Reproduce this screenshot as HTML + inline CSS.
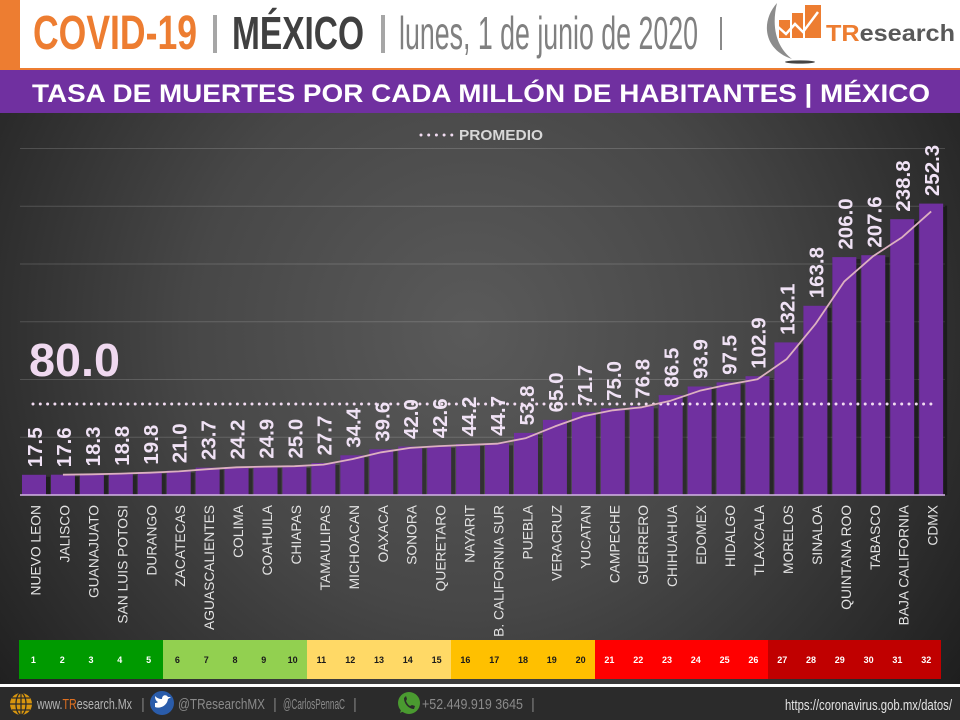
<!DOCTYPE html>
<html><head><meta charset="utf-8">
<style>
html,body{margin:0;padding:0;background:#2a2a2a;}
svg{display:block;}
.t{font-family:"Liberation Sans",Arial,sans-serif;}
.dl{font-family:"Liberation Sans",Arial,sans-serif;font-size:20.5px;font-weight:bold;fill:#f0e2f5;}
.cl{font-family:"Liberation Sans",Arial,sans-serif;font-size:13.8px;fill:#e2e2e2;text-anchor:end;}
.n{font-family:"Liberation Sans",Arial,sans-serif;font-size:9px;font-weight:bold;text-anchor:middle;}
</style></head>
<body>
<svg width="960" height="720" viewBox="0 0 960 720" xmlns="http://www.w3.org/2000/svg">
<defs>
<radialGradient id="bg" gradientUnits="userSpaceOnUse" cx="470" cy="330" r="620">
<stop offset="0" stop-color="#5a5a5a"/>
<stop offset="0.45" stop-color="#474747"/>
<stop offset="0.8" stop-color="#2c2c2c"/>
<stop offset="1" stop-color="#1c1c1c"/>
</radialGradient>
</defs>
<rect width="960" height="720" fill="#2a2a2a"/>
<rect y="113" width="960" height="571" fill="url(#bg)"/>

<!-- header -->
<rect x="0" y="0" width="960" height="68" fill="#ffffff"/>
<rect x="0" y="0" width="20" height="68" fill="#ed7d31"/>
<rect x="0" y="68" width="960" height="2" fill="#ed7d31"/>
<rect x="0" y="70" width="960" height="43" fill="#7030a0"/>
<text class="t" x="33" y="49" font-size="48" font-weight="bold" fill="#ed7d31" textLength="164" lengthAdjust="spacingAndGlyphs">COVID-19</text>
<rect x="213" y="15" width="4" height="38" fill="#a6a6a6"/>
<text class="t" x="232" y="49" font-size="46" font-weight="bold" fill="#404040" textLength="132" lengthAdjust="spacingAndGlyphs">MÉXICO</text>
<rect x="381" y="15" width="4" height="38" fill="#a6a6a6"/>
<text class="t" x="399" y="49" font-size="46" fill="#808080" textLength="299" lengthAdjust="spacingAndGlyphs">lunes, 1 de junio de 2020</text>
<rect x="720" y="17" width="2" height="33" fill="#8a8a8a"/>

<!-- logo -->
<path d="M777,3 C760,22 764,50 792,59 C780,50 770,32 777,3 Z" fill="#8c8c8c"/>
<ellipse cx="800" cy="62" rx="15" ry="1.6" fill="#444"/>
<rect x="779" y="20" width="11" height="18" fill="#ed7d31"/>
<rect x="792" y="13" width="11" height="25" fill="#ed7d31"/>
<rect x="805" y="5" width="16" height="33" fill="#ed7d31"/>
<polyline points="777,26 786,34 795,24 803,32 818,12" fill="none" stroke="#ffffff" stroke-width="2.5"/>
<text class="t" x="826" y="41" font-size="23" font-weight="bold" textLength="129" lengthAdjust="spacingAndGlyphs"><tspan fill="#ed7d31">TR</tspan><tspan fill="#595959">esearch</tspan></text>

<text class="t" x="32" y="102" font-size="25" font-weight="bold" fill="#ffffff" textLength="898" lengthAdjust="spacingAndGlyphs">TASA DE MUERTES POR CADA MILLÓN DE HABITANTES | MÉXICO</text>

<!-- legend -->
<line x1="421" y1="135" x2="452" y2="135" stroke="#f2dcf2" stroke-width="3" stroke-linecap="round" stroke-dasharray="0 7.7"/>
<text class="t" x="459" y="140" font-size="15" font-weight="bold" fill="#d8d8d8" textLength="84" lengthAdjust="spacingAndGlyphs">PROMEDIO</text>

<!-- gridlines -->
<g stroke="#ffffff" stroke-opacity="0.16" stroke-width="1">
<line x1="20" y1="148.5" x2="945" y2="148.5"/>
<line x1="20" y1="206.3" x2="945" y2="206.3"/>
<line x1="20" y1="264" x2="945" y2="264"/>
<line x1="20" y1="321.8" x2="945" y2="321.8"/>
<line x1="20" y1="379.5" x2="945" y2="379.5"/>
<line x1="20" y1="437.3" x2="945" y2="437.3"/>
</g>

<!-- bar shadows -->
<g fill="#000" fill-opacity="0.38">
<rect x="22" y="476.8" width="28" height="18.2"/>
<rect x="50.94" y="476.7" width="28" height="18.3"/>
<rect x="79.88" y="475.9" width="28" height="19.1"/>
<rect x="108.82" y="475.3" width="28" height="19.7"/>
<rect x="137.76" y="474.1" width="28" height="20.9"/>
<rect x="166.7" y="472.7" width="28" height="22.3"/>
<rect x="195.64" y="469.6" width="28" height="25.4"/>
<rect x="224.58" y="469" width="28" height="26"/>
<rect x="253.52" y="468.2" width="28" height="26.8"/>
<rect x="282.46" y="468.1" width="28" height="26.9"/>
<rect x="311.4" y="465" width="28" height="30"/>
<rect x="340.34" y="457.3" width="28" height="37.7"/>
<rect x="369.28" y="451.3" width="28" height="43.7"/>
<rect x="398.22" y="448.5" width="28" height="46.5"/>
<rect x="427.16" y="447.8" width="28" height="47.2"/>
<rect x="456.1" y="446" width="28" height="49"/>
<rect x="485.04" y="445.4" width="28" height="49.6"/>
<rect x="513.98" y="434.9" width="28" height="60.1"/>
<rect x="542.92" y="421.9" width="28" height="73.1"/>
<rect x="571.86" y="414.2" width="28" height="80.8"/>
<rect x="600.8" y="410.4" width="28" height="84.6"/>
<rect x="629.74" y="408.3" width="28" height="86.7"/>
<rect x="658.68" y="397.1" width="28" height="97.9"/>
<rect x="687.62" y="388.5" width="28" height="106.5"/>
<rect x="716.56" y="384.4" width="28" height="110.6"/>
<rect x="745.5" y="378.2" width="28" height="116.8"/>
<rect x="774.44" y="344.4" width="28" height="150.6"/>
<rect x="803.38" y="307.8" width="28" height="187.2"/>
<rect x="832.32" y="259.1" width="28" height="235.9"/>
<rect x="861.26" y="257.2" width="28" height="237.8"/>
<rect x="890.2" y="221.2" width="28" height="273.8"/>
<rect x="919.14" y="205.6" width="28" height="289.4"/>
</g>

<!-- bars -->
<g fill="#7030a0">
<rect x="22" y="474.8" width="24" height="20.2"/>
<rect x="50.94" y="474.7" width="24" height="20.3"/>
<rect x="79.88" y="473.9" width="24" height="21.1"/>
<rect x="108.82" y="473.3" width="24" height="21.7"/>
<rect x="137.76" y="472.1" width="24" height="22.9"/>
<rect x="166.7" y="470.7" width="24" height="24.3"/>
<rect x="195.64" y="467.6" width="24" height="27.4"/>
<rect x="224.58" y="467" width="24" height="28"/>
<rect x="253.52" y="466.2" width="24" height="28.8"/>
<rect x="282.46" y="466.1" width="24" height="28.9"/>
<rect x="311.4" y="463" width="24" height="32"/>
<rect x="340.34" y="455.3" width="24" height="39.7"/>
<rect x="369.28" y="449.3" width="24" height="45.7"/>
<rect x="398.22" y="446.5" width="24" height="48.5"/>
<rect x="427.16" y="445.8" width="24" height="49.2"/>
<rect x="456.1" y="444" width="24" height="51"/>
<rect x="485.04" y="443.4" width="24" height="51.6"/>
<rect x="513.98" y="432.9" width="24" height="62.1"/>
<rect x="542.92" y="419.9" width="24" height="75.1"/>
<rect x="571.86" y="412.2" width="24" height="82.8"/>
<rect x="600.8" y="408.4" width="24" height="86.6"/>
<rect x="629.74" y="406.3" width="24" height="88.7"/>
<rect x="658.68" y="395.1" width="24" height="99.9"/>
<rect x="687.62" y="386.5" width="24" height="108.5"/>
<rect x="716.56" y="382.4" width="24" height="112.6"/>
<rect x="745.5" y="376.2" width="24" height="118.8"/>
<rect x="774.44" y="342.4" width="24" height="152.6"/>
<rect x="803.38" y="305.8" width="24" height="189.2"/>
<rect x="832.32" y="257.1" width="24" height="237.9"/>
<rect x="861.26" y="255.2" width="24" height="239.8"/>
<rect x="890.2" y="219.2" width="24" height="275.8"/>
<rect x="919.14" y="203.6" width="24" height="291.4"/>
</g>

<!-- axis -->
<line x1="20" y1="495" x2="945" y2="495" stroke="#d4b4e6" stroke-width="1.6"/>

<!-- average dotted line -->
<line x1="33" y1="404" x2="932" y2="404" stroke="#f2dcf2" stroke-width="3" stroke-linecap="round" stroke-dasharray="0 7.3"/>

<!-- moving average -->
<polyline fill="none" stroke="#dcb0c0" stroke-width="1.8" stroke-linejoin="round" points="62.94,474.7 91.88,474.3 120.82,473.6 149.76,472.7 178.7,471.4 207.64,469.2 236.58,467.3 265.52,466.6 294.46,466.2 323.4,464.6 352.34,459.1 381.28,452.3 410.22,447.9 439.16,446.1 468.1,444.9 497.04,443.7 525.98,438.1 554.92,426.4 583.86,416.1 612.8,410.3 641.74,407.3 670.68,400.7 699.62,390.8 728.56,384.5 757.5,379.3 786.44,359.3 815.38,324.1 844.32,281.4 873.26,256.1 902.2,237.2 931.14,211.4"/>

<!-- 80.0 -->
<text class="t" x="29" y="376" font-size="46" font-weight="bold" fill="#f0d9f0" textLength="91" lengthAdjust="spacingAndGlyphs">80.0</text>

<!-- data labels -->
<g class="dl">
<text transform="translate(42,467.3) rotate(-90)">17.5</text>
<text transform="translate(70.94,467.2) rotate(-90)">17.6</text>
<text transform="translate(99.88,466.4) rotate(-90)">18.3</text>
<text transform="translate(128.82,465.8) rotate(-90)">18.8</text>
<text transform="translate(157.76,464.6) rotate(-90)">19.8</text>
<text transform="translate(186.7,463.2) rotate(-90)">21.0</text>
<text transform="translate(215.64,460.1) rotate(-90)">23.7</text>
<text transform="translate(244.58,459.5) rotate(-90)">24.2</text>
<text transform="translate(273.52,458.7) rotate(-90)">24.9</text>
<text transform="translate(302.46,458.6) rotate(-90)">25.0</text>
<text transform="translate(331.4,455.5) rotate(-90)">27.7</text>
<text transform="translate(360.34,447.8) rotate(-90)">34.4</text>
<text transform="translate(389.28,441.8) rotate(-90)">39.6</text>
<text transform="translate(418.22,439) rotate(-90)">42.0</text>
<text transform="translate(447.16,438.3) rotate(-90)">42.6</text>
<text transform="translate(476.1,436.5) rotate(-90)">44.2</text>
<text transform="translate(505.04,435.9) rotate(-90)">44.7</text>
<text transform="translate(533.98,425.4) rotate(-90)">53.8</text>
<text transform="translate(562.92,412.4) rotate(-90)">65.0</text>
<text transform="translate(591.86,404.7) rotate(-90)">71.7</text>
<text transform="translate(620.8,400.9) rotate(-90)">75.0</text>
<text transform="translate(649.74,398.8) rotate(-90)">76.8</text>
<text transform="translate(678.68,387.6) rotate(-90)">86.5</text>
<text transform="translate(707.62,379) rotate(-90)">93.9</text>
<text transform="translate(736.56,374.9) rotate(-90)">97.5</text>
<text transform="translate(765.5,368.7) rotate(-90)">102.9</text>
<text transform="translate(794.44,334.9) rotate(-90)">132.1</text>
<text transform="translate(823.38,298.3) rotate(-90)">163.8</text>
<text transform="translate(852.32,249.6) rotate(-90)">206.0</text>
<text transform="translate(881.26,247.7) rotate(-90)">207.6</text>
<text transform="translate(910.2,211.7) rotate(-90)">238.8</text>
<text transform="translate(939.14,196.1) rotate(-90)">252.3</text>
</g>

<!-- category labels -->
<g class="cl">
<text transform="translate(40.5,505) rotate(-90)">NUEVO LEON</text>
<text transform="translate(69.44,505) rotate(-90)">JALISCO</text>
<text transform="translate(98.38,505) rotate(-90)">GUANAJUATO</text>
<text transform="translate(127.32,505) rotate(-90)">SAN LUIS POTOSI</text>
<text transform="translate(156.26,505) rotate(-90)">DURANGO</text>
<text transform="translate(185.2,505) rotate(-90)">ZACATECAS</text>
<text transform="translate(214.14,505) rotate(-90)">AGUASCALIENTES</text>
<text transform="translate(243.08,505) rotate(-90)">COLIMA</text>
<text transform="translate(272.02,505) rotate(-90)">COAHUILA</text>
<text transform="translate(300.96,505) rotate(-90)">CHIAPAS</text>
<text transform="translate(329.9,505) rotate(-90)">TAMAULIPAS</text>
<text transform="translate(358.84,505) rotate(-90)">MICHOACAN</text>
<text transform="translate(387.78,505) rotate(-90)">OAXACA</text>
<text transform="translate(416.72,505) rotate(-90)">SONORA</text>
<text transform="translate(445.66,505) rotate(-90)">QUERETARO</text>
<text transform="translate(474.6,505) rotate(-90)">NAYARIT</text>
<text transform="translate(503.54,505) rotate(-90)">B. CALIFORNIA SUR</text>
<text transform="translate(532.48,505) rotate(-90)">PUEBLA</text>
<text transform="translate(561.42,505) rotate(-90)">VERACRUZ</text>
<text transform="translate(590.36,505) rotate(-90)">YUCATAN</text>
<text transform="translate(619.3,505) rotate(-90)">CAMPECHE</text>
<text transform="translate(648.24,505) rotate(-90)">GUERRERO</text>
<text transform="translate(677.18,505) rotate(-90)">CHIHUAHUA</text>
<text transform="translate(706.12,505) rotate(-90)">EDOMEX</text>
<text transform="translate(735.06,505) rotate(-90)">HIDALGO</text>
<text transform="translate(764,505) rotate(-90)">TLAXCALA</text>
<text transform="translate(792.94,505) rotate(-90)">MORELOS</text>
<text transform="translate(821.88,505) rotate(-90)">SINALOA</text>
<text transform="translate(850.82,505) rotate(-90)">QUINTANA ROO</text>
<text transform="translate(879.76,505) rotate(-90)">TABASCO</text>
<text transform="translate(908.7,505) rotate(-90)">BAJA CALIFORNIA</text>
<text transform="translate(937.64,505) rotate(-90)">CDMX</text>
</g>

<!-- color scale -->
<rect x="19" y="640" width="144" height="39" fill="#009a00"/>
<rect x="163" y="640" width="144" height="39" fill="#92d050"/>
<rect x="307" y="640" width="144" height="39" fill="#ffd966"/>
<rect x="451" y="640" width="144" height="39" fill="#ffc000"/>
<rect x="595" y="640" width="173" height="39" fill="#ff0000"/>
<rect x="768" y="640" width="173" height="39" fill="#c00000"/>
<g class="n" fill="#ffffff">
<text x="33.4" y="663">1</text><text x="62.2" y="663">2</text><text x="91" y="663">3</text><text x="119.8" y="663">4</text><text x="148.6" y="663">5</text>
</g>
<g class="n" fill="#1a1a1a">
<text x="177.4" y="663">6</text><text x="206.2" y="663">7</text><text x="235" y="663">8</text><text x="263.8" y="663">9</text><text x="292.6" y="663">10</text>
<text x="321.4" y="663">11</text><text x="350.2" y="663">12</text><text x="379" y="663">13</text><text x="407.8" y="663">14</text><text x="436.6" y="663">15</text>
<text x="465.4" y="663">16</text><text x="494.2" y="663">17</text><text x="523" y="663">18</text><text x="551.8" y="663">19</text><text x="580.6" y="663">20</text>
</g>
<g class="n" fill="#ffffff">
<text x="609.4" y="663">21</text><text x="638.2" y="663">22</text><text x="667" y="663">23</text><text x="695.8" y="663">24</text><text x="724.6" y="663">25</text><text x="753.4" y="663">26</text>
<text x="782.2" y="663">27</text><text x="811" y="663">28</text><text x="839.8" y="663">29</text><text x="868.6" y="663">30</text><text x="897.4" y="663">31</text><text x="926.2" y="663">32</text>
</g>

<!-- footer -->
<rect x="0" y="684" width="960" height="3" fill="#ffffff"/>
<rect x="0" y="687" width="960" height="33" fill="#2b2b2b"/>
<circle cx="21" cy="704" r="11" fill="#d8960f"/>
<g fill="none" stroke="#2b2b2b" stroke-width="1.3">
<ellipse cx="21" cy="704" rx="5" ry="11"/>
<line x1="10" y1="704" x2="32" y2="704"/>
<line x1="12" y1="698" x2="30" y2="698"/>
<line x1="12" y1="710" x2="30" y2="710"/>
<line x1="21" y1="693" x2="21" y2="715"/>
</g>
<text class="t" x="37" y="709" font-size="15" fill="#b4b4b4" textLength="95" lengthAdjust="spacingAndGlyphs">www.<tspan fill="#e07020">TR</tspan>esearch.Mx</text>
<text class="t" x="141" y="709" font-size="15" fill="#7a7a7a">|</text>
<circle cx="162" cy="703" r="12" fill="#2a5caa"/>
<path d="M155,707 C160,709 167,706 168,699 L171,697 L168,697 C166,694 162,695 162,699 C159,699 157,698 155,696 C155,699 156,701 158,702 C157,703 156,703 155,703 Z" fill="#ffffff"/>
<text class="t" x="178" y="709" font-size="15" fill="#8a8a8a" textLength="87" lengthAdjust="spacingAndGlyphs">@TResearchMX</text>
<text class="t" x="273" y="709" font-size="15" fill="#7a7a7a">|</text>
<text class="t" x="283" y="709" font-size="15" fill="#8a8a8a" textLength="62" lengthAdjust="spacingAndGlyphs">@CarlosPennaC</text>
<text class="t" x="353" y="709" font-size="15" fill="#7a7a7a">|</text>
<circle cx="409" cy="703" r="11" fill="#4a9a30"/>
<path d="M400,713 L402,707 L406,710 Z" fill="#4a9a30"/>
<path d="M404,698 C404,704 409,709 414,709 L415,706 L412,705 L410,706 C408,705 407,703 406,701 L407,699 L406,696 Z" fill="#2b2b2b"/>
<text class="t" x="422" y="709" font-size="15" fill="#8a8a8a" textLength="101" lengthAdjust="spacingAndGlyphs">+52.449.919 3645</text>
<text class="t" x="531" y="709" font-size="15" fill="#7a7a7a">|</text>
<text class="t" x="785" y="710" font-size="15" fill="#e4e4e4" textLength="167" lengthAdjust="spacingAndGlyphs">https://coronavirus.gob.mx/datos/</text>
</svg>
</body></html>
